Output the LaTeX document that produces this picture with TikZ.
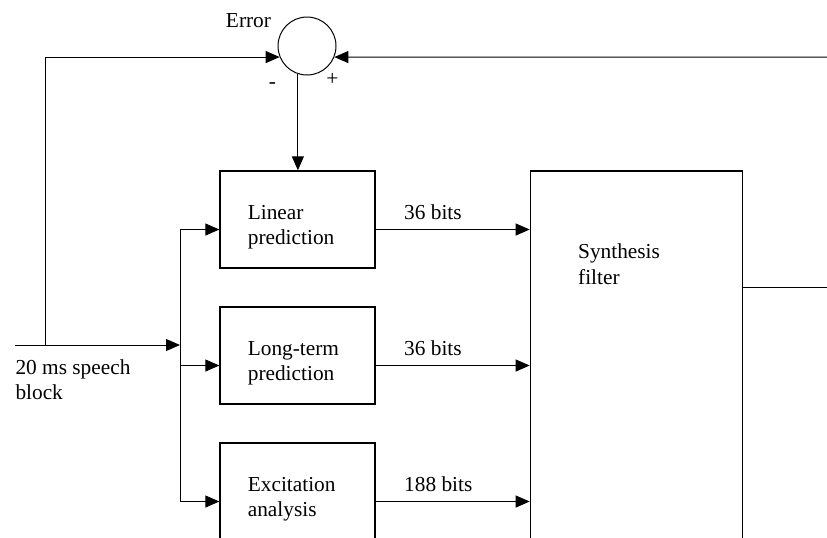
\documentclass[tikz,border=0pt]{standalone}
\usepackage{fontspec}
\setmainfont{Liberation Serif}
\usetikzlibrary{arrows.meta,positioning}

\tikzset{every picture/.style={line width=0.75pt}}
\tikzset{
	blk/.style={draw, line width=1pt, minimum width=116.25pt, minimum height=72.75pt, inner sep=0pt},
	lbl/.style={inner sep=0pt, align=left, font=\fontsize{16}{19}\selectfont},
	tip/.style={-{Triangle[length=10.5pt,width=9pt]}},
}

\begin{document}
\begin{tikzpicture}[x=0.75pt,y=0.75pt,yscale=-1,xscale=1]
		\useasboundingbox (0,0) rectangle (827,537);
		\clip (0,0) rectangle (827,537);
		
		%Shape: Circle [id:sum]
		\node [draw, circle, minimum size=43.5pt, inner sep=0pt] (sum) at (307,46) {};
		%Shape: Rectangle [id:lp]
		\node [blk] (lp) at (297.5,219.5) {};
		%Shape: Rectangle [id:ltp]
		\node [blk, below=28.25pt of lp] (ltp) {};
		%Shape: Rectangle [id:exc]
		\node [blk, below=28.25pt of ltp] (exc) {};
		%Shape: Rectangle [id:syn]
		\node [blk, minimum width=159pt, minimum height=315pt, anchor=north west] (syn) at ([xshift=115.5pt]lp.north east) {};
		
		\coordinate (in) at (15,345);
		\coordinate (br) at (180,345);
		\coordinate (tap) at (45,345);
		\coordinate (fbr) at (827,57);
		\coordinate (out) at (827,287);
		\foreach \b in {lp,ltp,exc} {
			\coordinate (\b i) at ([yshift=7.5pt]\b.west);
			\coordinate (\b o) at ([yshift=7.5pt]\b.east);
		}
		
		%Straight Lines
		\draw [tip] (in) -- (br);
		\draw (br |- lpi) -- (br |- exci);
		\foreach \b in {lp,ltp,exc}
			\draw [tip] (br |- \b i) -- (\b i);
		\draw [tip] (tap) |- (sum.202);
		\draw [tip] (fbr) -- (sum.338);
		\draw [tip] (sum.252) -- (sum.252 |- lp.north);
		\draw (syn.east |- out) -- (out);
		\foreach \b/\n in {lp/36,ltp/36,exc/188} {
			\draw [tip] (\b o) -- (syn.west |- \b o);
			% Text Node
			\node [lbl, anchor=base west] at ([xshift=21pt,yshift=-7.5pt]\b o) {\n\ bits};
		}
		
		% Text Node
		\node [lbl, anchor=west] at ([xshift=21pt,yshift=6pt]lp.west) {Linear\\prediction};
		% Text Node
		\node [lbl, anchor=west] at ([xshift=21pt,yshift=6pt]ltp.west) {Long-term\\prediction};
		% Text Node
		\node [lbl, anchor=west] at ([xshift=21pt,yshift=6pt]exc.west) {Excitation\\analysis};
		% Text Node
		\node [lbl, anchor=west] at ([xshift=36pt,yshift=70.5pt]syn.north west) {Synthesis\\filter};
		% Text Node
		\node [lbl, anchor=north west] at ([yshift=10.5pt]in) {20 ms speech\\block};
		% Text Node
		\node [lbl, anchor=base east] at ([xshift=-4.5pt,yshift=-14pt]sum.west) {Error};
		% Text Node
		\node [lbl] at ([xshift=-26pt,yshift=30pt]sum.center) {-};
		% Text Node
		\node [lbl] at ([xshift=19pt,yshift=25pt]sum.center) {+};
\end{tikzpicture}
\end{document}
